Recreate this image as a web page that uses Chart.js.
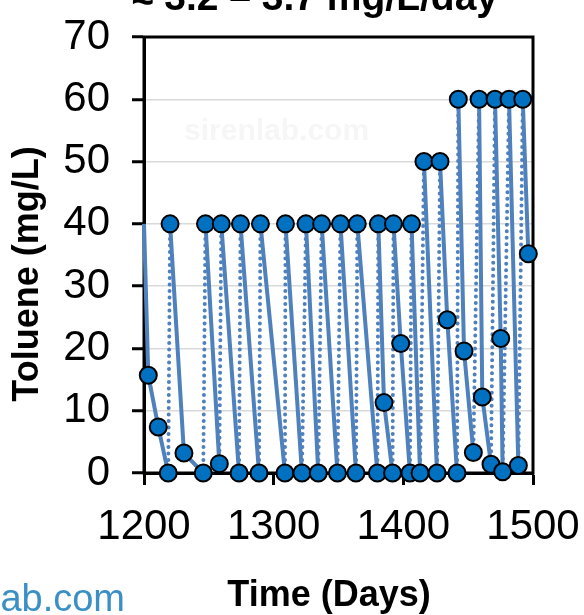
<!DOCTYPE html>
<html>
<head>
<meta charset="utf-8">
<script src="https://cdn.jsdelivr.net/npm/chart.js@4/dist/chart.umd.min.js"></script>
<style>
  html, body { margin: 0; padding: 0; background: #fff; overflow: hidden; }
  #wrap { position: relative; width: 584px; height: 615px; }
  #wm { position: absolute; right: 459px; top: 577px; font: 38px Arial, "Liberation Sans", sans-serif; color: #3a90c4; white-space: nowrap; }
</style>
</head>
<body>
<div id="wrap">
  <canvas id="chart" width="584" height="615"></canvas>
  <div id="wm">ab.com</div>
</div>
<script>
// toluene feed / decay cycles
const days = [1200, 1203.3, 1211.0, 1218.7, 1220.1, 1230.8, 1245.7, 1247.4, 1258.1, 1259.6, 1273.3,
  1274.4, 1288.7, 1289.8, 1308.7, 1309.1, 1321.8, 1324.9, 1334.4, 1337.0, 1349.2, 1351.5, 1363.5,
  1364.5, 1380.0, 1380.7, 1385.1, 1391.7, 1392.4, 1398.0, 1405.1, 1406.3, 1412.9, 1415.9, 1426.0,
  1428.3, 1433.9, 1441.4, 1442.4, 1446.8, 1454.0, 1458.4, 1460.9, 1467.6, 1470.7, 1475.1, 1476.6,
  1481.5, 1488.7, 1492.1, 1496.4];
const toluene = [40, 15.7, 7.4, 0, 40, 3.2, 0, 40, 1.5, 40, 0,
  40, 0, 40, 0, 40, 0, 40, 0, 40, 0, 40, 0,
  40, 0, 40, 11.3, 0, 40, 20.8, 0, 40, 0, 50, 0,
  50, 24.6, 0, 60, 19.6, 3.3, 60, 12.2, 1.4, 60, 21.6, 0.2,
  60, 1.2, 60, 35.2];
const xTicks = [1200, 1300, 1400, 1500];
const yTicks = [0, 10, 20, 30, 40, 50, 60, 70];

const chartTitle = '≈ 3.2 – 3.7 mg/L/day';
const xTitle = 'Time (Days)';
const yTitle = 'Toluene (mg/L)';
const FONT = 'Arial, "Liberation Sans", sans-serif';

// rising segments are the feeds -> dotted
const isFeed = s => s.p1.parsed.y > s.p0.parsed.y;

const plotFrame = {
  id: 'plotFrame',
  beforeDatasetsDraw(chart){
    const { ctx, chartArea: a } = chart;
    ctx.save();
    ctx.fillStyle = '#f6f6f6';
    ctx.font = 'bold 30px ' + FONT;
    ctx.fillText('sirenlab.com', 184, 140);
    ctx.strokeStyle = '#000';
    ctx.lineWidth = 3;
    ctx.strokeRect(a.left, a.top, a.right - a.left, a.bottom - a.top);
    ctx.restore();
  }
};

// title (cut off at the top of the picture) and the two axis titles
const texts = {
  id: 'texts',
  afterDraw(chart){
    const ctx = chart.ctx;
    ctx.save();
    ctx.fillStyle = '#000';
    ctx.textBaseline = 'alphabetic';
    ctx.font = 'bold 39px ' + FONT;
    ctx.fillText(chartTitle, 132, 9.5);
    ctx.font = 'bold 36px ' + FONT;
    ctx.textAlign = 'center';
    ctx.fillText(xTitle, 329, 606);
    ctx.translate(38, 274);
    ctx.rotate(-Math.PI / 2);
    ctx.fillText(yTitle, 0, 0);
    ctx.restore();
  }
};

new Chart(document.getElementById('chart'), {
  type: 'line',
  data: {
    datasets: [{
      label: 'Toluene',
      data: days.map((d, i) => ({ x: d, y: toluene[i] })),
      borderColor: '#4F81BD',
      borderWidth: 4,
      tension: 0,
      clip: false,
      pointRadius: c => c.dataIndex === 0 ? 0 : 8.5,
      pointBackgroundColor: '#0070C0',
      pointBorderColor: '#000',
      pointBorderWidth: 2,
      segment: {
        borderDash: s => isFeed(s) ? [0, 6.5] : undefined,
        borderCapStyle: s => isFeed(s) ? 'round' : 'butt'
      }
    }]
  },
  options: {
    responsive: false,
    animation: false,
    events: [],
    layout: { padding: { top: 37, right: 51, left: 0, bottom: 0 } },
    plugins: { legend: { display: false }, tooltip: { enabled: false } },
    scales: {
      x: {
        type: 'linear', min: 1200, max: 1500,
        afterBuildTicks: s => { s.ticks = xTicks.map(v => ({ value: v })); },
        afterFit: s => { s.height = 142; s.paddingLeft = 0; s.paddingRight = 0; },
        ticks: { color: '#000', padding: 17, font: { family: FONT, size: 42 }, callback: v => String(v) },
        grid: { drawOnChartArea: false, tickLength: 12, tickColor: '#000', tickWidth: 3 },
        border: { color: '#000', width: 3 }
      },
      y: {
        min: 0, max: 70,
        afterBuildTicks: s => { s.ticks = yTicks.map(v => ({ value: v })); },
        afterFit: s => { s.width = 144; s.paddingTop = 0; s.paddingBottom = 0; },
        ticks: { color: '#000', padding: 22, font: { family: FONT, size: 42 }, callback: v => String(v) },
        grid: { color: '#D9D9D9', lineWidth: 1.5, tickLength: 12, tickColor: '#000', tickWidth: 3 },
        border: { color: '#000', width: 3 }
      }
    }
  },
  plugins: [plotFrame, texts]
});
</script>
</body>
</html>
